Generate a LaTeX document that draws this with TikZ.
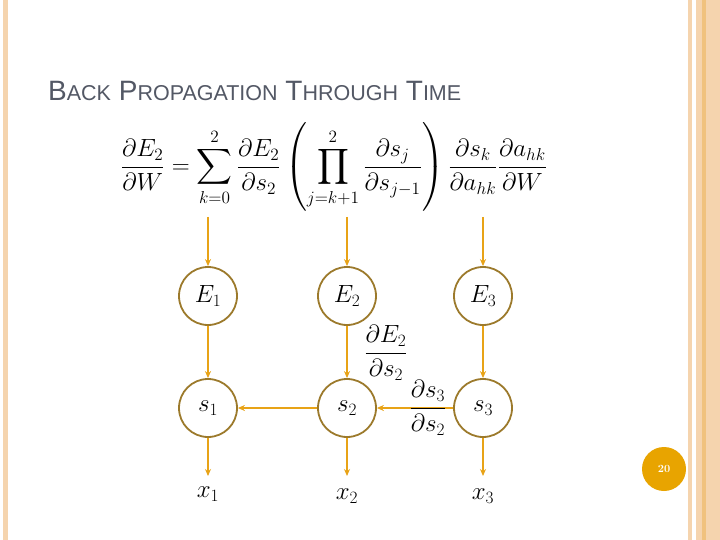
\documentclass[tikz,border=0pt]{standalone}
\usepackage{amsmath}
\usepackage{fontspec}
\usetikzlibrary{arrows.meta}
\newfontfamily\titlefont{Liberation Sans}
\definecolor{arr}{HTML}{E8A317}
\definecolor{ring}{HTML}{9C7A2C}
\definecolor{bord}{HTML}{F5D4AE}
\definecolor{bord2}{HTML}{F0C27E}
\definecolor{titlec}{HTML}{535865}
\definecolor{pnum}{HTML}{E8A400}
\begin{document}
\begin{tikzpicture}[x=1pt,y=-1pt,
  st/.style={circle,draw=ring,line width=1.8pt,fill=white,minimum size=58pt,inner sep=0pt,font=\fontsize{25}{30}\selectfont},
  ar/.style={draw=arr,line width=1.6pt,-{Stealth[length=7pt,width=6pt]}},
  lab/.style={font=\fontsize{25}{30}\selectfont}]
\useasboundingbox (0,0) rectangle (720,540);
\fill[white] (0,0) rectangle (720,540);
\fill[bord] (3,0) rectangle (8,540);
\fill[bord] (688,0) rectangle (692,540);
\fill[bord] (696,0) rectangle (720,540);
\fill[bord2] (702,0) rectangle (706,540);
\node[anchor=base west,text=titlec,inner sep=0pt] (title) at (48,101)
  {\titlefont\fontsize{28}{32}\selectfont B{\fontsize{21.5}{24}\selectfont ACK} P{\fontsize{21.5}{24}\selectfont ROPAGATION} T{\fontsize{21.5}{24}\selectfont HROUGH} T{\fontsize{21.5}{24}\selectfont IME}};
\node[inner sep=0pt] (eq) at (334,167)
  {\scalebox{1.2}{\fontsize{20}{24}\selectfont$\displaystyle \frac{\partial E_2}{\partial W}=\sum_{k=0}^{2}\frac{\partial E_2}{\partial s_2}\left(\prod_{j=k+1}^{2}\frac{\partial s_j}{\partial s_{j-1}}\right)\frac{\partial s_k}{\partial a_{hk}}\frac{\partial a_{hk}}{\partial W}$}};
\node[st] (E1) at (208,296) {$E_1$};
\node[st] (E2) at (347,296) {$E_2$};
\node[st] (E3) at (483,296) {$E_3$};
\node[st] (s1) at (208,408) {$s_1$};
\node[st] (s2) at (347,408) {$s_2$};
\node[st] (s3) at (483,408) {$s_3$};
\node[lab] (x1) at (208,494) {$x_1$};
\node[lab] (x2) at (347,496) {$x_2$};
\node[lab] (x3) at (483,496) {$x_3$};
\coordinate (t1) at (208,217);
\coordinate (t2) at (347,217);
\coordinate (t3) at (483,217);
\coordinate (b1) at (208,476);
\coordinate (b2) at (347,476);
\coordinate (b3) at (483,476);
\foreach \i in {1,2,3} {
  \draw[ar] (t\i) -- (E\i);
  \draw[ar] (E\i) -- (s\i);
  \draw[ar] (s\i) -- (b\i);
}
\draw[ar] (s2) -- (s1);
\draw[ar] (s3) -- (s2);
\node[lab] (d1) at (386,353) {$\dfrac{\partial E_2}{\partial s_2}$};
\node[lab,inner sep=0pt] (d2) at (428,408) {$\dfrac{\partial s_3}{\partial s_2}$};
\node[circle,fill=pnum,minimum size=44pt,inner sep=0pt,text=white,font=\bfseries\fontsize{11}{13}\selectfont] (pg) at (664,469) {20};
\end{tikzpicture}
\end{document}
